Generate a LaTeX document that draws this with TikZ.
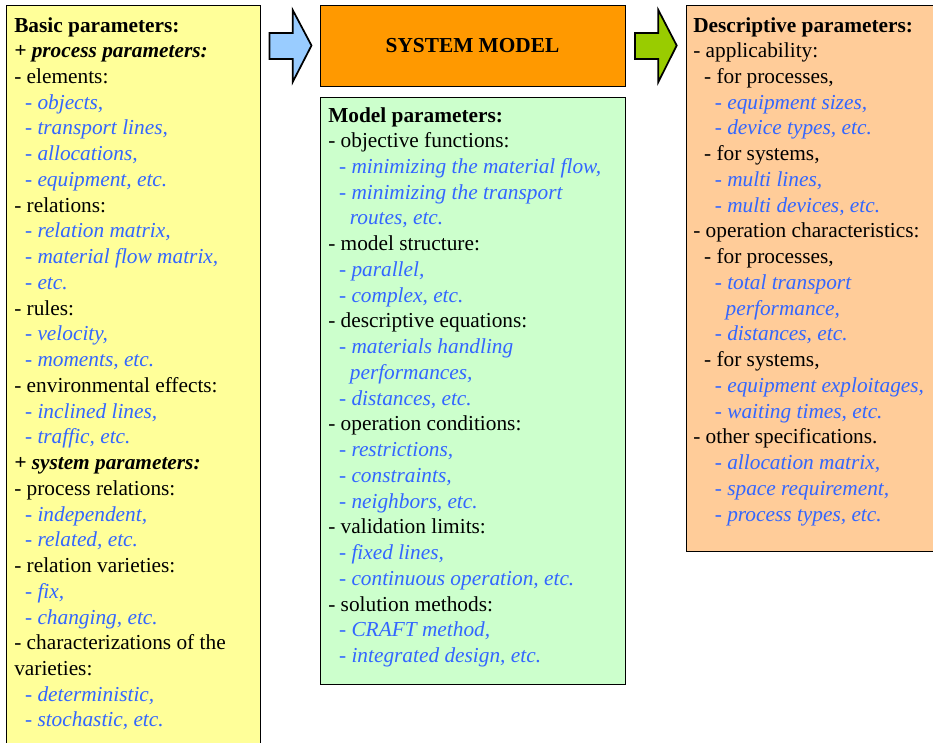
\documentclass[tikz,border=0pt]{standalone}
\usepackage{fontspec}
\setmainfont{Liberation Serif}
\definecolor{boxyellow}{HTML}{FFFF99}
\definecolor{boxorange}{HTML}{FF9900}
\definecolor{boxgreen}{HTML}{CCFFCC}
\definecolor{boxpeach}{HTML}{FFCC99}
\definecolor{arrblue}{HTML}{99CCFF}
\definecolor{arrgreen}{HTML}{99CC00}
\definecolor{textblue}{HTML}{3366FF}
\tikzset{
  panel/.style={draw=black, line width=0.9pt, inner sep=0pt, anchor=north west},
  bigarrow/.style={draw=black, line width=1.3pt, line join=miter},
  txtb/.style={font=\fontsize{16}{19}\selectfont\bfseries, text=black},
  txtbi/.style={font=\fontsize{16}{19}\selectfont\bfseries\itshape, text=black},
  txtn/.style={font=\fontsize{16}{19}\selectfont, text=black},
  txti/.style={font=\fontsize{16}{19}\selectfont\itshape, text=textblue},
  line/.style={inner sep=0pt, anchor=base west}
}
\begin{document}
\begin{tikzpicture}[x=0.75pt, y=-0.75pt]
\useasboundingbox (0,0) rectangle (933,743);
\clip (0,0) rectangle (933,743);
% panels
\node[panel, fill=boxyellow, minimum width=254*0.75pt, minimum height=760*0.75pt] (left) at (6,5) {};
\node[panel, fill=boxorange, minimum width=305*0.75pt, minimum height=81*0.75pt] (model) at (320,5) {};
\node[txtb] (modeltext) at (472.5,45.5) {SYSTEM MODEL};
\node[panel, fill=boxgreen, minimum width=305*0.75pt, minimum height=587*0.75pt] (params) at (320,97) {};
\node[panel, fill=boxpeach, minimum width=260*0.75pt, minimum height=546*0.75pt] (right) at (686,5) {};
% arrows
\draw[bigarrow, fill=arrblue] (269.5,33) -- (292.7,33) -- (292.7,10) -- (311.5,45.5) -- (292.7,82) -- (292.7,59) -- (269.5,59) -- cycle;
\draw[bigarrow, fill=arrgreen] (635,33) -- (658.3,33) -- (658.3,10) -- (676.7,45.5) -- (658.3,82) -- (658.3,59) -- (635,59) -- cycle;
% left text
\foreach \lv/\st/\tx [count=\k from 0] in {
 0/txtb/{Basic parameters:},
 0/txtbi/{+ process parameters:},
 0/txtn/{- elements:},
 1/txti/{- objects,},
 1/txti/{- transport lines,},
 1/txti/{- allocations,},
 1/txti/{- equipment, etc.},
 0/txtn/{- relations:},
 1/txti/{- relation matrix,},
 1/txti/{- material flow matrix,},
 1/txti/{- etc.},
 0/txtn/{- rules:},
 1/txti/{- velocity,},
 1/txti/{- moments, etc.},
 0/txtn/{- environmental effects:},
 1/txti/{- inclined lines,},
 1/txti/{- traffic, etc.},
 0/txtbi/{+ system parameters:},
 0/txtn/{- process relations:},
 1/txti/{- independent,},
 1/txti/{- related, etc.},
 0/txtn/{- relation varieties:},
 1/txti/{- fix,},
 1/txti/{- changing, etc.},
 0/txtn/{- characterizations of the},
 0/txtn/{varieties:},
 1/txti/{- deterministic,},
 1/txti/{- stochastic, etc.}
}{\node[line, \st] (A\k) at ({14+10.8*\lv},{32+25.74*\k}) {\tx};}
% middle text
\foreach \lv/\st/\tx [count=\k from 0] in {
 0/txtb/{Model parameters:},
 0/txtn/{- objective functions:},
 1/txti/{- minimizing the material flow,},
 1/txti/{- minimizing the transport},
 2/txti/{routes, etc.},
 0/txtn/{- model structure:},
 1/txti/{- parallel,},
 1/txti/{- complex, etc.},
 0/txtn/{- descriptive equations:},
 1/txti/{- materials handling},
 2/txti/{performances,},
 1/txti/{- distances, etc.},
 0/txtn/{- operation conditions:},
 1/txti/{- restrictions,},
 1/txti/{- constraints,},
 1/txti/{- neighbors, etc.},
 0/txtn/{- validation limits:},
 1/txti/{- fixed lines,},
 1/txti/{- continuous operation, etc.},
 0/txtn/{- solution methods:},
 1/txti/{- CRAFT method,},
 1/txti/{- integrated design, etc.}
}{\node[line, \st] (B\k) at ({328+10.8*\lv},{122+25.74*\k}) {\tx};}
% right text
\foreach \lv/\st/\tx [count=\k from 0] in {
 0/txtb/{Descriptive parameters:},
 0/txtn/{- applicability:},
 1/txtn/{- for processes,},
 2/txti/{- equipment sizes,},
 2/txti/{- device types, etc.},
 1/txtn/{- for systems,},
 2/txti/{- multi lines,},
 2/txti/{- multi devices, etc.},
 0/txtn/{- operation characteristics:},
 1/txtn/{- for processes,},
 2/txti/{- total transport},
 3/txti/{performance,},
 2/txti/{- distances, etc.},
 1/txtn/{- for systems,},
 2/txti/{- equipment exploitages,},
 2/txti/{- waiting times, etc.},
 0/txtn/{- other specifications.},
 2/txti/{- allocation matrix,},
 2/txti/{- space requirement,},
 2/txti/{- process types, etc.}
}{\node[line, \st] (C\k) at ({693+10.8*\lv},{32+25.74*\k}) {\tx};}
\end{tikzpicture}
\end{document}
